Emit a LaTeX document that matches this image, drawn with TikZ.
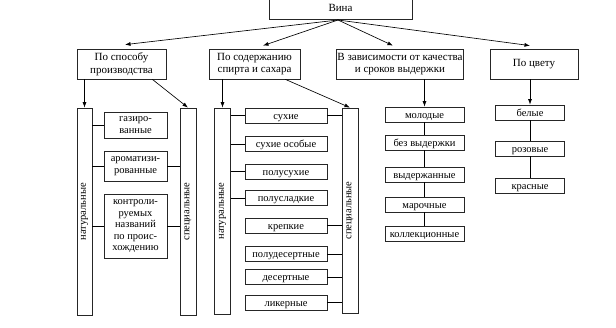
\documentclass[tikz,border=0pt]{standalone}
\usepackage{fontspec}
\setmainfont{Liberation Serif}
\usetikzlibrary{arrows.meta,positioning}
\tikzset{
  box/.style={draw=black!85,line width=.75pt,align=center,inner sep=1pt,font=\fontsize{10.5}{11.5}\selectfont},
  cat/.style={box,minimum height=30pt,font=\fontsize{11}{12.5}\selectfont},
  bar/.style={draw=black!85,line width=.75pt,inner sep=0pt,minimum width=15pt},
  item/.style={box,minimum height=15pt},
  leaf/.style={draw=black!85,line width=.75pt,inner sep=1pt,minimum height=15pt,
    text height=8pt,text depth=0pt,font=\fontsize{10.5}{11.5}\selectfont},
  vlbl/.style={rotate=90,inner sep=0pt,font=\fontsize{10.5}{12}\selectfont},
  arr/.style={-{Latex[length=5.5pt,width=4pt]},line width=.65pt},
  lnk/.style={line width=.65pt},
}
\begin{document}
\begin{tikzpicture}[x=1pt,y=-1pt]
  \useasboundingbox (0,0) rectangle (616,328);
  % root and the four criteria
  \node[box,minimum width=143pt,minimum height=22pt,font=\fontsize{11}{13}\selectfont] (vina) at (340.5,8) {Вина};
  \coordinate (hub) at (338,20);
  \node[cat,minimum width=89pt] (prod) at (121.5,64) {По способу\\производства};
  \node[cat,minimum width=91pt] (sugar) at (254.5,64) {По содержанию\\спирта и сахара};
  \node[cat,minimum width=126pt] (age) at (400,64) {В зависимости от качества\\и сроков выдержки};
  \node[cat,minimum width=88pt] (color) at (534,64) {По цвету};
  \draw[arr] (hub) -- ([xshift=3.5pt,yshift=4pt]prod.north);
  \draw[arr] (hub) -- ([xshift=8.5pt,yshift=3pt]sugar.north);
  \draw[arr] (hub) -- ([xshift=-7pt,yshift=3pt]age.north);
  \draw[arr] (hub) -- ([xshift=-4pt,yshift=3pt]color.north);
  % by way of production
  \node[bar,minimum height=207pt,label={[vlbl]center:натуральные}] (nat1) at (84.5,211.5) {};
  \node[bar,minimum height=207pt,minimum width=16pt,label={[vlbl]center:специальные}] (spec1) at (188,211.5) {};
  \node[item,minimum width=63pt,minimum height=26pt] (gaz) at (135.5,125) {газиро-\\ванные};
  \node[item,minimum width=63pt,minimum height=30pt] (arom) at (135.5,166) {ароматизи-\\рованные};
  \node[item,minimum width=63pt,minimum height=64pt] (ctrl) at (135.5,226.5) {контроли-\\руемых\\названий\\по проис-\\хождению};
  \draw[arr] (nat1.north |- prod.south) -- (nat1.north);
  \draw[arr] ([xshift=-14pt]prod.south east) -- (spec1.north);
  \draw[lnk] (nat1.east |- gaz.west) -- (gaz.west);
  \foreach \b in {arom,ctrl} {
    \draw[lnk] (nat1.east |- \b.west) -- (\b.west);
    \draw[lnk] (\b.east) -- (spec1.west |- \b.east);
  }
  % by alcohol and sugar content
  \node[bar,minimum height=206pt,minimum width=16pt,label={[vlbl]center:натуральные}] (nat2) at (222.5,211) {};
  \node[bar,minimum height=205pt,minimum width=16pt,label={[vlbl]center:специальные}] (spec2) at (350,210.5) {};
  \foreach \n/\y/\t in {dry/115.5/сухие,dryx/144/сухие особые,sdry/171.5/полусухие,
      ssweet/198/полусладкие,strong/225.5/крепкие,sdess/254/полудесертные,
      dess/277/десертные,liq/302.5/ликерные}
    \node[leaf,minimum width=82pt] (\n) at (286,\y) {\t};
  \draw[arr] (nat2.north |- sugar.south) -- (nat2.north);
  \draw[arr] ([xshift=-15pt]sugar.south east) -- (spec2.north);
  \foreach \b in {dry,dryx,sdry,ssweet}
    \draw[lnk] (nat2.east |- \b.west) -- (\b.west);
  \foreach \b in {dry,strong,sdess,dess,liq}
    \draw[lnk] (\b.east) -- (spec2.west |- \b.east);
  % by quality and ageing
  \foreach \n/\y/\t in {young/114.5/молодые,noage/142.5/без выдержки,aged/174.5/выдержанные,
      brand/204.5/марочные,coll/234/коллекционные}
    \node[leaf,minimum width=79pt] (\n) at (424.5,\y) {\t};
  \draw[arr] (young.north |- age.south) -- (young.north);
  \draw[lnk] (young) -- (noage) -- (aged) -- (brand) -- (coll);
  % by colour
  \foreach \n/\y/\t in {white/112.5/белые,rose/148.5/розовые,red/185.5/красные}
    \node[leaf,minimum width=69pt] (\n) at (530,\y) {\t};
  \draw[arr] (white.north |- color.south) -- (white.north);
  \draw[lnk] (white) -- (rose) -- (red);
\end{tikzpicture}
\end{document}
